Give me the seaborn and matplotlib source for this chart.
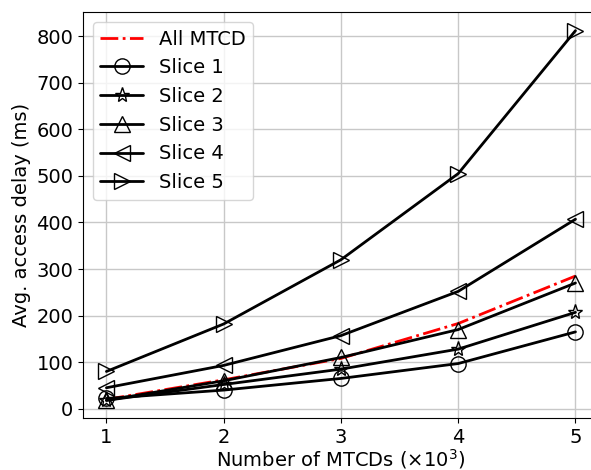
import numpy as np
import pandas as pd
import seaborn as sns
import matplotlib
matplotlib.use("Agg")
import matplotlib.pyplot as plt

# data
n_mtcd = [1, 2, 3, 4, 5]
all_mtcd = [20, 62, 108, 183, 285]
slice1 = [22, 40, 65, 97, 165]
slice2 = [18, 52, 85, 128, 207]
slice3 = [18, 60, 110, 170, 270]
slice4 = [45, 93, 157, 252, 407]
slice5 = [80, 182, 320, 505, 812]

sns.set_style("ticks")
plt.rcParams['font.family'] = ['DejaVu Sans']
plt.rcParams['font.size'] = 14
plt.rcParams['text.color'] = 'black'
plt.rcParams['axes.labelcolor'] = 'black'
plt.rcParams['xtick.color'] = 'black'
plt.rcParams['ytick.color'] = 'black'

fig = plt.figure(figsize=(5.91, 4.70), dpi=100)
# the reference is cropped on the right side
ax = fig.add_axes([0.1404, 0.1106, 0.873, 0.8638])

sns.lineplot(x=n_mtcd, y=all_mtcd, ax=ax, color='red', linestyle='-.',
             linewidth=2, label='All MTCD')

slices = [(slice1, 'o'), (slice2, '*'), (slice3, '^'), (slice4, '<'), (slice5, '>')]
for i, (vals, m) in enumerate(slices):
    sns.lineplot(x=n_mtcd, y=vals, ax=ax, color='black', linewidth=2,
                 marker=m, markersize=11, markerfacecolor='none',
                 markeredgecolor='black', markeredgewidth=1,
                 label=f'Slice {i + 1}')

ax.set_xticks(n_mtcd)
ax.set_xlim(0.8, 5.2)
ax.set_ylim(-20, 852)
ax.set_yticks(range(0, 900, 100))
ax.grid(True, color='#c8c8c8', linewidth=1)
ax.set_axisbelow(True)
for s in ax.spines.values():
    s.set_color('black')
    s.set_visible(True)
ax.tick_params(axis='both', labelsize=14, direction='out')
ax.set_xlabel(r'Number of MTCDs ($\times 10^3$)', fontsize=14, labelpad=0)
ax.set_ylabel('Avg. access delay (ms)', fontsize=14)
ax.legend(loc='upper left', fontsize=14, handlelength=2.2)

plt.savefig('out.png', dpi=100)
